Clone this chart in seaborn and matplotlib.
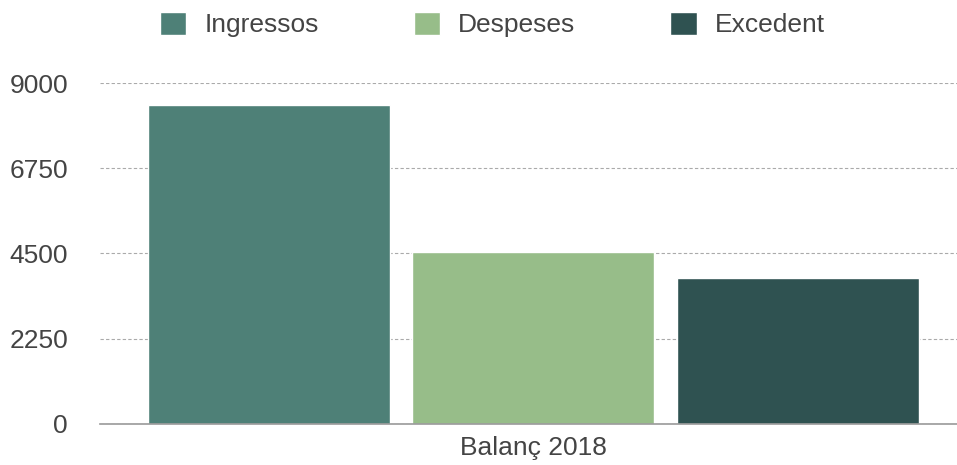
import matplotlib
matplotlib.use("Agg")
import matplotlib.pyplot as plt
import seaborn as sns
import pandas as pd

# Dades del balanç
periode = ["Balanç 2018"]
conceptes = ["Ingressos", "Despeses", "Excedent"]
valors = [8425, 4535, 3850]
colors = ["#4e8077", "#97bd89", "#2f5251"]
yticks = [0, 2250, 4500, 6750, 9000]

df = pd.DataFrame({
    "periode": periode * len(conceptes),
    "concepte": conceptes,
    "valor": valors,
})

sns.set_theme(style="white")
plt.rcParams["font.family"] = ["Liberation Sans", "DejaVu Sans"]
text_col = "#444444"

fig = plt.figure(figsize=(9.57, 4.65), dpi=100)
ax = fig.add_axes([100 / 957, 1 - 423.5 / 465, 857 / 957, 340 / 465])

sns.barplot(data=df, x="periode", y="valor", hue="concepte",
            palette=colors, saturation=1, width=0.926, gap=0.085, ax=ax)

ax.set_ylim(0, 9000)
ax.set_xlim(-0.5058, 0.4942)
ax.set_yticks(yticks)
ax.set_xlabel("")
ax.set_ylabel("")
ax.tick_params(axis="y", length=0, pad=23, labelsize=19, labelcolor=text_col)
ax.tick_params(axis="x", length=0, pad=9, labelsize=19, labelcolor=text_col)

ax.set_axisbelow(True)
ax.yaxis.grid(True, color="#aaaaaa", linestyle=(0, (3, 2)), linewidth=0.8)
for side in ["top", "right", "left"]:
    ax.spines[side].set_visible(False)
ax.spines["bottom"].set_color("#999999")
ax.spines["bottom"].set_linewidth(1.2)

sns.move_legend(ax, "center", bbox_to_anchor=(0.5146, 1 - 24.5 / 465),
                bbox_transform=fig.transFigure, ncol=3, frameon=False,
                title=None, fontsize=19, handlelength=1.0, handleheight=1.0,
                handletextpad=0.68, columnspacing=3.6)
for t in ax.get_legend().get_texts():
    t.set_color(text_col)

fig.savefig("out.png", dpi=100)
